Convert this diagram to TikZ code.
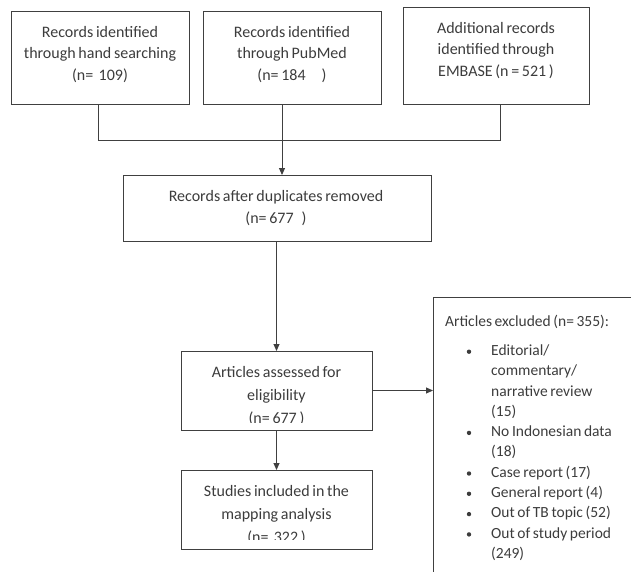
\documentclass[tikz,border=0pt]{standalone}
\usepackage{fontspec}
\setmainfont{Carlito}[WordSpace=0.75]
\usetikzlibrary{arrows.meta}
\definecolor{ink}{HTML}{404040}
\definecolor{txtc}{HTML}{3C3C3C}
\begin{document}
\begin{tikzpicture}[x=1pt,y=-1pt,
  box/.style={draw=ink, line width=1pt, rectangle, inner sep=0pt, outer sep=0pt},
  txt/.style={text=txtc, font=\fontsize{16}{21.5}\selectfont, align=center, inner sep=0pt},
  txtb/.style={txt, font=\fontsize{16}{23}\selectfont},
  ln/.style={text=txtc, font=\fontsize{15.5}{20}\selectfont, inner sep=0pt, anchor=west,
             text height=11pt, text depth=3.5pt},
  dot/.style={circle, fill=txtc, inner sep=0pt, minimum size=4.4pt},
  conn/.style={draw=ink, line width=1pt},
  arr/.style={conn, -{Triangle[length=7pt,width=6pt]}}]
\useasboundingbox (0,0) rectangle (631,571);
\clip (0,0) rectangle (631,571);

% top boxes
\node[box, minimum width=178pt, minimum height=93pt] (b1) at (100,57.5) {};
\node[box, minimum width=178pt, minimum height=93pt] (b2) at (292,57.5) {};
\node[box, minimum width=186pt, minimum height=97pt] (b3) at (496,55.5) {};
\node[txt] (t1) at (100,54.5) {Records identified\\through hand searching\\(n=\,\,109)};
\node[txt] (t2) at (292,54.5) {Records identified\\through PubMed\\(n=\,184\quad)};
\node[txt] (t3) at (496,50.5) {Additional records\\identified through\\EMBASE (n\,=\,521\,)};

% middle box
\node[box, minimum width=308pt, minimum height=66pt] (b4) at (277,208) {};
\node[txt] (t4) at (276,208) {Records after duplicates removed\\(n=\,677\,\,\,)};

% assessed box
\node[box, minimum width=191pt, minimum height=79pt] (b5) at (276.5,390.5) {};
\begin{scope}
  \clip (181,351) rectangle (372,422);
  \node[txtb] (t5) at (276.5,396.5) {Articles assessed for\\eligibility\\(n=\,677\,)};
\end{scope}

% included box
\node[box, minimum width=191pt, minimum height=79pt] (b7) at (276.5,509.5) {};
\begin{scope}
  \clip (181,470) rectangle (372,539);
  \node[txtb] (t7) at (276.5,515.5) {Studies included in the\\mapping analysis\\(n=\,\,322\,)};
\end{scope}

% excluded box
\node[box, minimum width=227pt, minimum height=303pt] (b6) at (546.5,448.5) {};
\node[ln] (h6) at (445,323) {Articles excluded (n=\,355):};
\node[dot] (d1) at (469,351.7) {};
\node[ln] (l1) at (491,351.7) {Editorial/};
\node[ln] (l2) at (491,372) {commentary/};
\node[ln] (l3) at (491,392.3) {narrative review};
\node[ln] (l4) at (491,412.6) {(15)};
\node[dot] (d2) at (469,432.9) {};
\node[ln] (l5) at (491,432.9) {No Indonesian data};
\node[ln] (l6) at (491,453.2) {(18)};
\node[dot] (d3) at (469,473.5) {};
\node[ln] (l7) at (491,473.5) {Case report (17)};
\node[dot] (d4) at (469,493.8) {};
\node[ln] (l8) at (491,493.8) {General report (4)};
\node[dot] (d5) at (469,514.1) {};
\node[ln] (l9) at (491,514.1) {Out of TB topic (52)};
\node[dot] (d6) at (469,534.4) {};
\node[ln] (l10) at (491,534.4) {Out of study period};
\node[ln] (l11) at (491,554.7) {(249)};

% connectors
\coordinate (j1) at (98,140);
\coordinate (j2) at (282,140);
\coordinate (j3) at (500.5,140);
\draw[conn] (b1.south -| j1) -- (j1) -- (j3) -- (b3.south -| j3);
\draw[arr] (b2.south -| j2) -- (b4.north -| j2);
\draw[arr] (b4.south -| b5.north) -- (b5.north);
\draw[arr] (b5.south) -- (b7.north);
\draw[arr] (b5.east) -- (b5.east -| b6.west);
\end{tikzpicture}
\end{document}
